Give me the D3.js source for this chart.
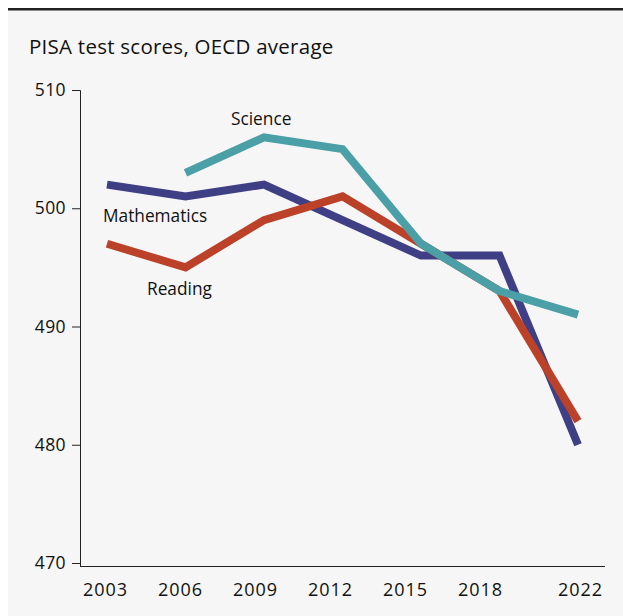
<!DOCTYPE html>
<html><head><meta charset="utf-8">
<script src="https://cdn.jsdelivr.net/npm/d3@7"></script>
<style>
html,body{margin:0;padding:0;background:#fff;}
svg{display:block;font-family:"Open Sans",Lato,sans-serif;}
</style></head>
<body>
<svg id="c" width="623" height="616"></svg>
<script>
const years = [2003, 2006, 2009, 2012, 2015, 2018, 2022];
const tickYears = [2003, 2006, 2009, 2012, 2015, 2018, 2022];
const yTicks = [470, 480, 490, 500, 510];
const mathematics = [502, 501, 502, 499, 496, 496, 480];
const reading = [497, 495, 499, 501, 497, 493, 482];
const science = [null, 503, 506, 505, 497, 493, 491];
const seriesNames = ["Mathematics", "Reading", "Science"];
const seriesColors = ["#3e3f84", "#bb4128", "#4aa0a6"];
const title = "PISA test scores, OECD average";
const FONT = "'Open Sans',Lato,sans-serif";

const svg = d3.select("#c");
svg.append("rect").attr("x", 8).attr("y", 8).attr("width", 615).attr("height", 608).attr("fill", "#f6f6f6");
svg.append("rect").attr("x", 8).attr("y", 8).attr("width", 615).attr("height", 2.5).attr("fill", "#222");

svg.append("text").attr("x", 29).attr("y", 54).attr("font-size", 20.5).attr("letter-spacing", 0.25).attr("fill", "#111").text(title);

const y = d3.scaleLinear().domain([470, 510]).range([563, 90]);
const xLabel = d3.scaleLinear().domain([2002, 2023]).range([80, 605]);
const xPt = d3.scalePoint().domain(years).range([107, 578]);

// y axis
const yAxis = svg.append("g").attr("transform", "translate(80,0)")
  .call(d3.axisLeft(y).tickValues(yTicks).tickSize(8).tickPadding(6).tickFormat(d3.format("d")));
yAxis.select(".domain").attr("stroke", "#222").attr("d", "M-8,90.5H0.5V566.5");
yAxis.selectAll(".tick line").attr("stroke", "#222");
yAxis.selectAll(".tick text").attr("font-size", 17.5).attr("letter-spacing", 0.4).attr("fill", "#111").attr("font-family", FONT);

// x axis
const xAxis = svg.append("g").attr("transform", "translate(0,566)")
  .call(d3.axisBottom(xLabel).tickValues(tickYears).tickSize(0).tickPadding(17).tickFormat(d3.format("d")));
xAxis.select(".domain").attr("stroke", "#222").attr("d", "M80,0.5H605");
xAxis.selectAll(".tick text").attr("font-size", 18).attr("letter-spacing", 0.9).attr("fill", "#111").attr("font-family", FONT);

const line = d3.line().defined(d => d.v != null).x(d => xPt(d.yr)).y(d => y(d.v));
const allSeries = [mathematics, reading, science];
allSeries.forEach((vals, i) => {
  svg.append("path")
    .datum(years.map((yr, j) => ({yr, v: vals[j]})))
    .attr("fill", "none").attr("stroke", seriesColors[i]).attr("stroke-width", 8)
    .attr("stroke-linejoin", "miter").attr("stroke-linecap", "butt")
    .attr("d", line);
});

const labelPos = [
  {x: 103, y: 222, anchor: "start"},
  {x: 147, y: 295, anchor: "start"},
  {x: 231, y: 125, anchor: "start"}
];
seriesNames.forEach((n, i) => {
  svg.append("text").attr("x", labelPos[i].x).attr("y", labelPos[i].y)
    .attr("font-size", 17.3).attr("fill", "#111").attr("text-anchor", labelPos[i].anchor).text(n);
});
</script>
</body></html>
